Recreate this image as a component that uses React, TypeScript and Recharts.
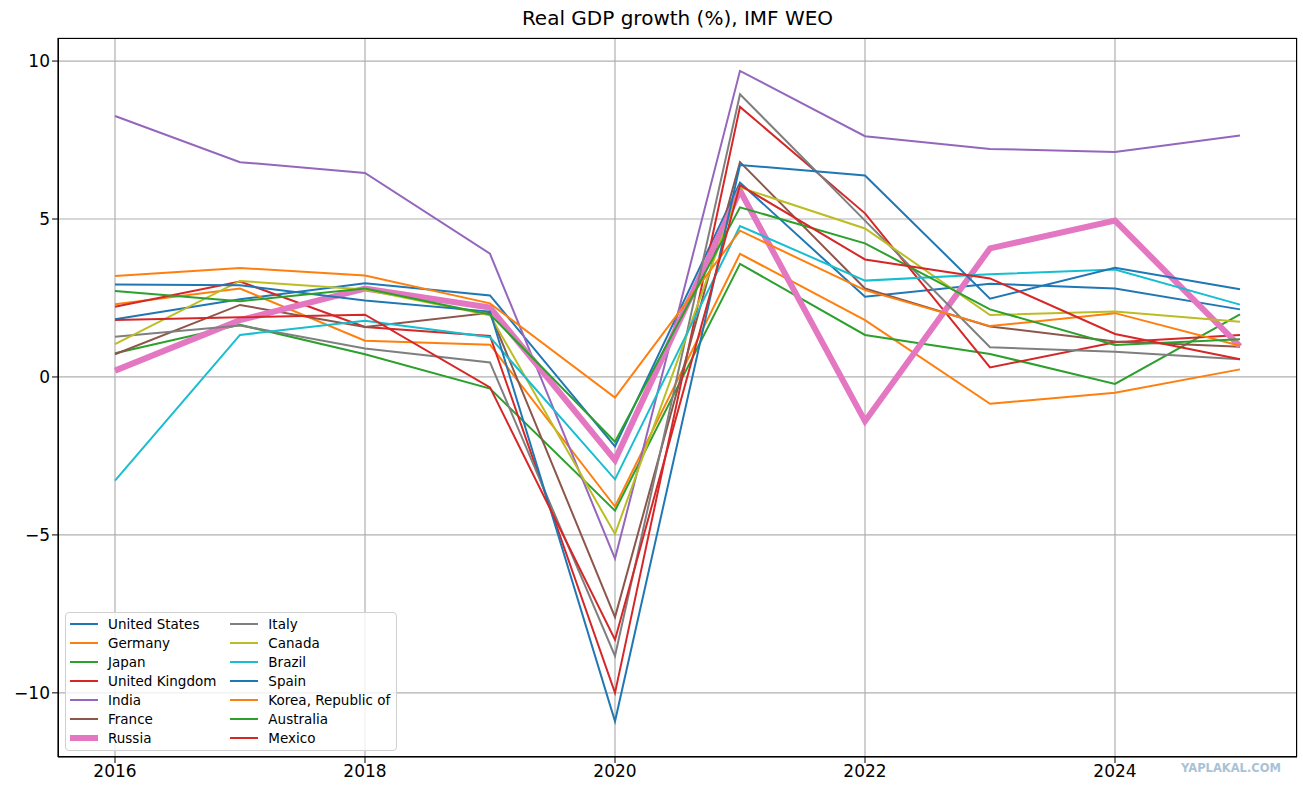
import React from 'react';
import { LineChart, Line, XAxis, YAxis, CartesianGrid } from 'recharts';

const YEARS = [2016, 2017, 2018, 2019, 2020, 2021, 2022, 2023, 2024, 2025];
const X_TICKS = [2016, 2018, 2020, 2022, 2024];
const Y_TICKS = [-10, -5, 0, 5, 10];

const UNITED_STATES = [1.83, 2.46, 2.97, 2.58, -2.2, 6.15, 2.54, 2.95, 2.8, 2.14];
const GERMANY = [2.3, 2.8, 1.15, 1.02, -4.1, 3.9, 1.8, -0.85, -0.5, 0.24];
const JAPAN = [0.75, 1.65, 0.72, -0.37, -4.23, 3.58, 1.33, 0.73, -0.22, 1.98];
const UNITED_KINGDOM = [2.22, 3.02, 1.58, 1.3, -10.0, 8.55, 5.18, 0.3, 1.1, 1.33];
const INDIA = [8.26, 6.8, 6.46, 3.9, -5.75, 9.69, 7.62, 7.22, 7.12, 7.64];
const FRANCE = [0.72, 2.28, 1.58, 2.03, -7.6, 6.8, 2.8, 1.6, 1.12, 0.96];
const RUSSIA = [0.2, 1.8, 2.8, 2.2, -2.63, 5.9, -1.4, 4.07, 4.95, 0.97];
const ITALY = [1.27, 1.63, 0.9, 0.46, -8.83, 8.95, 4.95, 0.94, 0.8, 0.56];
const CANADA = [1.04, 3.04, 2.77, 1.95, -4.97, 6.0, 4.7, 1.96, 2.07, 1.75];
const BRAZIL = [-3.28, 1.33, 1.78, 1.26, -3.24, 4.78, 3.05, 3.25, 3.4, 2.29];
const SPAIN = [2.93, 2.9, 2.42, 2.07, -10.9, 6.71, 6.38, 2.48, 3.46, 2.78];
const KOREA = [3.2, 3.45, 3.21, 2.33, -0.65, 4.63, 2.75, 1.61, 2.02, 0.99];
const AUSTRALIA = [2.72, 2.4, 2.8, 1.98, -2.05, 5.37, 4.23, 2.14, 1.01, 1.19];
const MEXICO = [1.8, 1.89, 1.97, -0.33, -8.32, 6.07, 3.72, 3.12, 1.36, 0.56];

const SERIES = [
    { key: 'United States', values: UNITED_STATES, color: '#1f77b4', width: 2 },
    { key: 'Germany', values: GERMANY, color: '#ff7f0e', width: 2 },
    { key: 'Japan', values: JAPAN, color: '#2ca02c', width: 2 },
    { key: 'United Kingdom', values: UNITED_KINGDOM, color: '#d62728', width: 2 },
    { key: 'India', values: INDIA, color: '#9467bd', width: 2 },
    { key: 'France', values: FRANCE, color: '#8c564b', width: 2 },
    { key: 'Russia', values: RUSSIA, color: '#e377c2', width: 6 },
    { key: 'Italy', values: ITALY, color: '#7f7f7f', width: 2 },
    { key: 'Canada', values: CANADA, color: '#bcbd22', width: 2 },
    { key: 'Brazil', values: BRAZIL, color: '#17becf', width: 2 },
    { key: 'Spain', values: SPAIN, color: '#1f77b4', width: 2 },
    { key: 'Korea, Republic of', values: KOREA, color: '#ff7f0e', width: 2 },
    { key: 'Australia', values: AUSTRALIA, color: '#2ca02c', width: 2 },
    { key: 'Mexico', values: MEXICO, color: '#d62728', width: 2 },
];

const data = YEARS.map((year, i) => {
    const row: Record<string, number> = { year };
    SERIES.forEach((s) => {
        row[s.key] = s.values[i];
    });
    return row;
});

const FONT = '"DejaVu Sans", sans-serif';
const fmt = (v: number) => (v < 0 ? '\u2212' + Math.abs(v) : String(v));

// plot box in page pixels
const PLOT = { left: 58, top: 38, right: 1297, bottom: 757 };

function LegendBox() {
    const half = Math.ceil(SERIES.length / 2);
    const cols = [SERIES.slice(0, half), SERIES.slice(half)];
    return (
        <div
            style={{
                position: 'absolute',
                left: 65,
                top: 612,
                background: 'rgba(255,255,255,0.8)',
                border: '1px solid #d0d0d0',
                borderRadius: 4,
                padding: '1px 6px 2px 4px',
                display: 'flex',
                gap: 14,
                fontFamily: FONT,
                fontSize: 13.5,
                color: '#000',
            }}
        >
            {cols.map((col, ci) => (
                <div key={ci}>
                    {col.map((s) => (
                        <div key={s.key} style={{ display: 'flex', alignItems: 'center', height: 19.1 }}>
                            <svg width={28} height={10} style={{ marginRight: 10 }}>
                                <line x1={0} y1={5} x2={28} y2={5} stroke={s.color} strokeWidth={s.width} />
                            </svg>
                            <span>{s.key}</span>
                        </div>
                    ))}
                </div>
            ))}
        </div>
    );
}

export default function App() {
    return (
        <div style={{ position: 'fixed', left: 0, top: 0, width: 1303, height: 798, background: '#fff' }}>
            <div
                style={{
                    position: 'absolute',
                    left: PLOT.left,
                    width: PLOT.right - PLOT.left,
                    top: 6,
                    textAlign: 'center',
                    fontFamily: FONT,
                    fontSize: 20,
                }}
            >
                Real GDP growth (%), IMF WEO
            </div>
            <LineChart
                width={1303}
                height={798}
                data={data}
                margin={{ top: PLOT.top, right: 1303 - PLOT.right, bottom: 0, left: 0 }}
            >
                <CartesianGrid stroke="#b0b0b0" strokeWidth={1.2} />
                <XAxis
                    dataKey="year"
                    type="number"
                    domain={[2015.544, 2025.456]}
                    ticks={X_TICKS}
                    allowDataOverflow
                    height={798 - PLOT.bottom}
                    stroke="#000"
                    tickSize={6}
                    tick={{ fill: '#000', fontSize: 17, fontFamily: FONT }}
                />
                <YAxis
                    type="number"
                    domain={[-12.03, 10.73]}
                    ticks={Y_TICKS}
                    allowDataOverflow
                    width={PLOT.left}
                    stroke="#000"
                    tickSize={6}
                    tickFormatter={fmt}
                    tick={{ fill: '#000', fontSize: 17, fontFamily: FONT }}
                />
                {SERIES.map((s) => (
                    <Line
                        key={s.key}
                        dataKey={s.key}
                        stroke={s.color}
                        strokeWidth={s.width}
                        dot={false}
                        activeDot={false}
                        isAnimationActive={false}
                    />
                ))}
            </LineChart>
            <LegendBox />
            <div
                style={{
                    position: 'absolute',
                    left: PLOT.left,
                    top: PLOT.top,
                    width: PLOT.right - PLOT.left,
                    height: PLOT.bottom - PLOT.top,
                    border: '1px solid #000',
                    boxSizing: 'border-box',
                    pointerEvents: 'none',
                }}
            />
            <div
                style={{
                    position: 'absolute',
                    left: 1181,
                    top: 761,
                    fontFamily: FONT,
                    fontWeight: 'bold',
                    fontSize: 11.5,
                    color: '#a9c3d6',
                }}
            >
                YAPLAKAL.COM
            </div>
        </div>
    );
}
